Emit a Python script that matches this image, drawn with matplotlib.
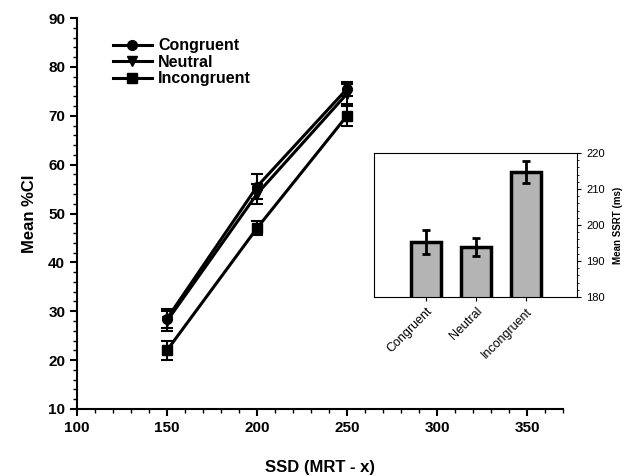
import matplotlib
matplotlib.use("Agg")
import matplotlib.pyplot as plt
from matplotlib.ticker import MultipleLocator
from matplotlib.lines import Line2D

plt.rcParams['font.family'] = ['Liberation Sans', 'DejaVu Sans']

ssd = [150, 200, 250]
congruent = [28.5, 55.5, 75.5]
congruent_err = [2.0, 2.5, 1.5]
neutral = [28.0, 54.0, 74.5]
neutral_err = [2.0, 2.0, 2.0]
incongruent = [22.0, 47.0, 70.0]
incongruent_err = [2.0, 1.5, 2.0]

inset_labels = ['Congruent', 'Neutral', 'Incongruent']
ssrt = [195.3, 193.9, 214.7]
ssrt_err = [3.3, 2.5, 3.0]

fig = plt.figure(figsize=(6.34, 4.76), dpi=100)
ax = fig.add_axes([77/634, 1-409/476, (563-77)/634, (409-18)/476])

series = [(congruent, congruent_err, 'o', 'Congruent'),
          (neutral, neutral_err, 'v', 'Neutral'),
          (incongruent, incongruent_err, 's', 'Incongruent')]
handles = []
for vals, errs, mk, lab in series:
    ax.errorbar(ssd, vals, yerr=errs, color='black', marker=mk, markersize=7,
                linewidth=2.2, elinewidth=1.5, capsize=4, capthick=1.5)
    handles.append(Line2D([], [], color='black', marker=mk, markersize=7,
                          linewidth=2.2, label=lab))

ax.set_xlim(100, 370)
ax.set_ylim(10, 90)
ax.xaxis.set_major_locator(MultipleLocator(50))
ax.xaxis.set_minor_locator(MultipleLocator(10))
ax.yaxis.set_major_locator(MultipleLocator(10))
ax.yaxis.set_minor_locator(MultipleLocator(2))
for s in ['top', 'right']:
    ax.spines[s].set_visible(False)
for s in ['left', 'bottom']:
    ax.spines[s].set_linewidth(1.5)
ax.tick_params(which='major', direction='out', length=5, width=1.5, labelsize=11)
ax.tick_params(which='minor', direction='out', length=3, width=1)
for t in ax.get_xticklabels() + ax.get_yticklabels():
    t.set_fontweight('bold')
ax.set_xlabel('SSD (MRT - x)', fontsize=12, fontweight='bold', labelpad=18)
ax.set_ylabel('Mean %CI', fontsize=12, fontweight='bold', labelpad=8)

leg = ax.legend(handles=handles, loc='upper left', bbox_to_anchor=(0.045, 0.985),
                frameon=False, prop={'weight': 'bold', 'size': 11.5},
                handlelength=2.4, labelspacing=0.1, handletextpad=0.4)

# inset
iax = fig.add_axes([374/634, 1-297/476, (577-374)/634, (297-153)/476])
xpos = list(range(len(inset_labels)))
iax.bar(xpos, ssrt, width=0.6, color='#b4b4b4', edgecolor='black', linewidth=2.5)
iax.errorbar(xpos, ssrt, yerr=ssrt_err, fmt='none', ecolor='black',
             elinewidth=2, capsize=3, capthick=2)
iax.set_xlim(-1.04, 3.02)
iax.set_ylim(180, 220)
iax.yaxis.tick_right()
iax.yaxis.set_label_position('right')
iax.yaxis.set_major_locator(MultipleLocator(10))
iax.yaxis.set_minor_locator(MultipleLocator(2))
iax.set_xticks(xpos)
iax.set_xticklabels(inset_labels, rotation=45, ha='right', rotation_mode='anchor', fontsize=9)
iax.tick_params(axis='x', length=3, pad=3)
iax.tick_params(axis='y', which='major', length=3, labelsize=8)
iax.tick_params(axis='y', which='minor', length=1.5)
for s in iax.spines.values():
    s.set_linewidth(0.8)
iax.set_ylabel('Mean SSRT (ms)', fontsize=7, fontweight='bold', labelpad=6)

fig.savefig('out.png', dpi=100)
